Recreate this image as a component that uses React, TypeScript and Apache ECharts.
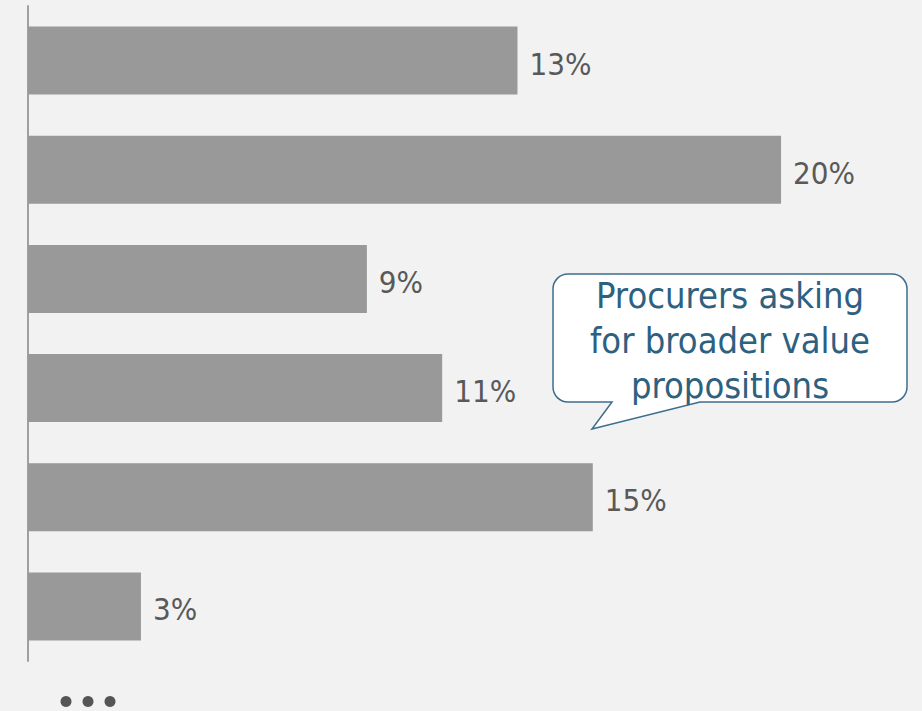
import React, { useEffect, useRef } from "react";
import * as echarts from "echarts";

const categories = ["Item 1", "Item 2", "Item 3", "Item 4", "Item 5", "Item 6"];
const values = [13, 20, 9, 11, 15, 3];
const calloutLines = ["Procurers asking", "for broader value", "propositions"];

const bubblePath =
  "M568 274 H892 A15 15 0 0 1 907 289 V387 A15 15 0 0 1 892 402 H700 L592 429 L612 402 H568 A15 15 0 0 1 553 387 V289 A15 15 0 0 1 568 274 Z";

echarts.graphic.registerShape("bubble", (echarts.graphic as any).extendPath(bubblePath, {}));

export default function App() {
  const ref = useRef<HTMLDivElement>(null);
  useEffect(() => {
    document.body.style.margin = "0";
    const chart = echarts.init(ref.current!, null, { renderer: "svg" });
    const font = "'DejaVu Sans Condensed', sans-serif";
    chart.setOption({
      animation: false,
      backgroundColor: "#f2f2f2",
      grid: { left: 28, top: 6, width: 866, height: 655 },
      xAxis: {
        type: "value",
        min: 0,
        max: 23,
        show: false,
      },
      yAxis: {
        type: "category",
        data: categories,
        inverse: true,
        axisLine: { show: true, lineStyle: { color: "#a0a0a0", width: 2 } },
        axisTick: { show: false },
        axisLabel: { show: false },
      },
      series: [
        {
          type: "bar",
          data: values,
          barWidth: 68,
          itemStyle: { color: "#999999" },
          label: {
            show: true,
            position: "right",
            distance: 12,
            offset: [0, 3],
            formatter: "{c}%",
            color: "#595959",
            fontSize: 31,
            fontFamily: font,
          },
        },
      ],
      graphic: [
        {
          type: "bubble",
          x: 0,
          y: 0,
          style: { fill: "#ffffff", stroke: "#3d6e8c", lineWidth: 1.5 },
        },
        {
          type: "text",
          x: 730,
          y: 340,
          style: {
            text: calloutLines.join("\n"),
            fill: "#2e6080",
            fontSize: 36,
            fontFamily: font,
            lineHeight: 45,
            align: "center",
            verticalAlign: "middle",
          },
        },
        { type: "circle", shape: { cx: 66, cy: 701.5, r: 5.5 }, style: { fill: "#555555" } },
        { type: "circle", shape: { cx: 88, cy: 701.5, r: 5.5 }, style: { fill: "#555555" } },
        { type: "circle", shape: { cx: 110, cy: 701.5, r: 5.5 }, style: { fill: "#555555" } },
      ],
    });
    return () => chart.dispose();
  }, []);
  return <div ref={ref} style={{ position: "fixed", left: 0, top: 0, width: 922, height: 711 }} />;
}
